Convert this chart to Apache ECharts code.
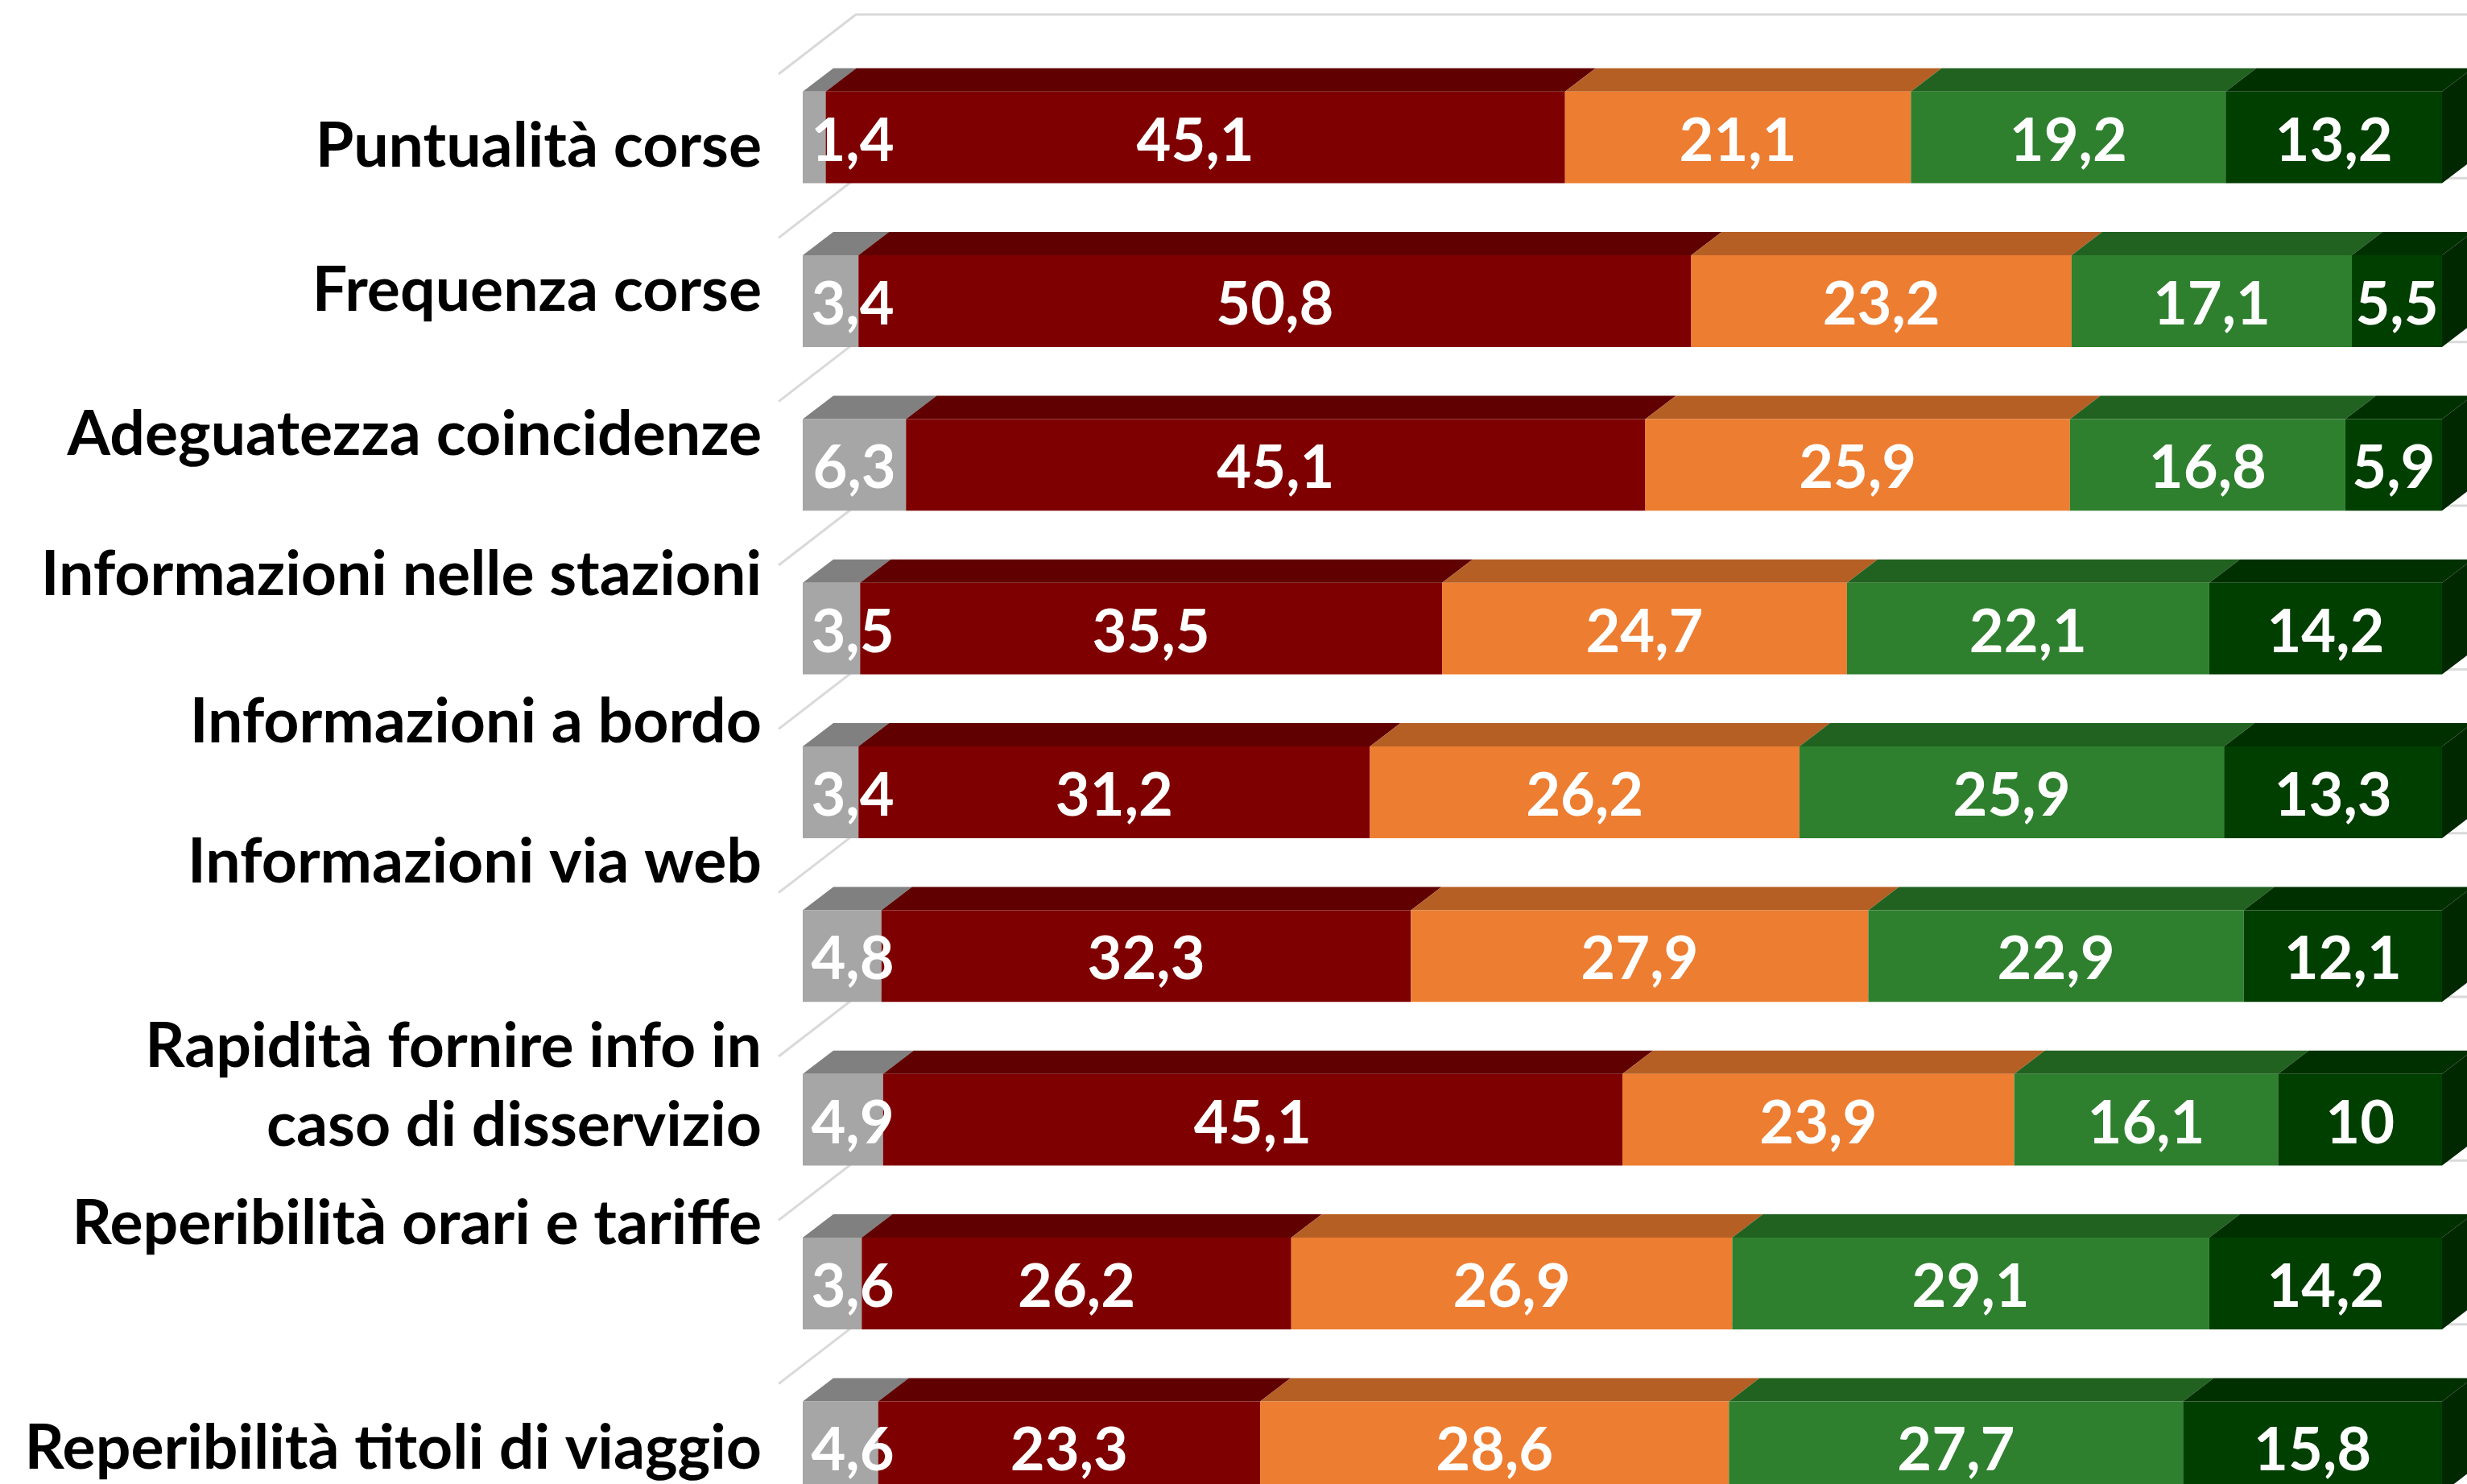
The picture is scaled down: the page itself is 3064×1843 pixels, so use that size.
<!DOCTYPE html>
<html>
<head>
<meta charset="utf-8">
<title>Soddisfazione servizi</title>
<script src="https://cdn.jsdelivr.net/npm/echarts@6/dist/echarts.min.js"></script>
<style>
  html, body { margin: 0; padding: 0; background: #fff; }
  #chart { width: 3064px; height: 1843px; }
</style>
</head>
<body>
<div id="chart"></div>
<script>
  // categorie (dall'alto in basso)
  const categories = [
    'Puntualità corse',
    'Frequenza corse',
    'Adeguatezza coincidenze',
    'Informazioni nelle stazioni',
    'Informazioni a bordo',
    'Informazioni via web',
    'Rapidità fornire info in\ncaso di disservizio',
    'Reperibilità orari e tariffe',
    'Reperibilità titoli di viaggio'
  ]

  // percentuali per giudizio
  const nonSo      = [1.4, 3.4, 6.3, 3.5, 3.4, 4.8, 4.9, 3.6, 4.6]
  const perNiente  = [45.1, 50.8, 45.1, 35.5, 31.2, 32.3, 45.1, 26.2, 23.3]
  const poco       = [21.1, 23.2, 25.9, 24.7, 26.2, 27.9, 23.9, 26.9, 28.6]
  const abbastanza = [19.2, 17.1, 16.8, 22.1, 25.9, 22.9, 16.1, 29.1, 27.7]
  const molto      = [13.2, 5.5, 5.9, 14.2, 13.3, 12.1, 10, 14.2, 15.8]

  const seriesNames = ['Non so', 'Per niente', 'Poco', 'Abbastanza', 'Molto']
  const seriesValues = [nonSo, perNiente, poco, abbastanza, molto]

  // colori: fronte, faccia superiore, fianco
  const palette = [
    ['#a6a6a6', '#808080', '#6e6e6e'],
    ['#7f0000', '#600000', '#500000'],
    ['#ed7d31', '#b55f24', '#9a501e'],
    ['#2e802e', '#216221', '#1a4f1a'],
    ['#003f00', '#003000', '#002800']
  ]

  // spostamento verticale delle etichette di categoria (effetto prospettico)
  const labelShift = [12, -13, -37, -66, -87, -116, 0, -74, 2]

  const depthX = 38
  const depthY = 29
  const faceRatio = 0.56
  const catFont = 77

  const chart = echarts.init(document.getElementById('chart'))

  function fmt(v) {
    return String(v).replace('.', ',')
  }

  function segmentRenderer(si) {
    return function (params, api) {
      const k = api.value(1)
      const start = api.value(2)
      const end = start + api.value(0)
      const origin = api.coord([0, k])
      const p0 = api.coord([start, k])
      const p1 = api.coord([end, k])
      const h = api.size([0, 1])[1] * faceRatio
      const x0 = p0[0]
      const x1 = p1[0]
      const yt = p0[1] - h / 2
      const yb = p0[1] + h / 2
      const col = palette[si]
      const children = [
        {
          type: 'polygon',
          shape: { points: [[x0, yt], [x0 + depthX, yt - depthY], [x1 + depthX, yt - depthY], [x1, yt]] },
          style: { fill: col[1] }
        },
        {
          type: 'rect',
          shape: { x: x0, y: yt, width: x1 - x0, height: h },
          style: { fill: col[0] }
        }
      ]
      if (si === seriesValues.length - 1) {
        children.push({
          type: 'polygon',
          shape: { points: [[x1, yt], [x1 + depthX, yt - depthY], [x1 + depthX, yb - depthY], [x1, yb]] },
          style: { fill: col[2] }
        })
      }
      const cx = Math.max((x0 + x1) / 2, origin[0] + 62)
      children.push({
        type: 'text',
        z2: 100,
        style: {
          x: cx,
          y: p0[1] + 5,
          text: fmt(api.value(0)),
          fill: '#ffffff',
          font: 'bold 74px Lato',
          align: 'center',
          verticalAlign: 'middle'
        }
      })
      return { type: 'group', children: children }
    }
  }

  function gridRenderer(params, api) {
    const b = api.value(0)
    const c0 = api.coord([0, 0])
    const band = api.size([0, 1])[1]
    const yb = c0[1] - band / 2 + b * band
    const fx = c0[0] - 30
    const fy = yb + 23
    const bx = c0[0] + 66
    const by = yb - 51
    return {
      type: 'polyline',
      shape: { points: [[fx, fy], [bx, by], [api.getWidth() + 10, by]] },
      style: { stroke: '#d9d9d9', lineWidth: 3, fill: 'none' }
    }
  }

  const rich = {}
  labelShift.forEach((d, i) => {
    rich['s' + i] = {
      fontFamily: 'Lato',
      fontWeight: 'bold',
      fontSize: catFont,
      color: '#000',
      padding: d < 0 ? [0, 0, -2 * d, 0] : [2 * d, 0, 0, 0]
    }
  })
  rich.ml = { fontFamily: 'Lato', fontWeight: 'bold', fontSize: catFont, color: '#000', lineHeight: 98 }
  rich.sp = { fontSize: 10, lineHeight: 82 }

  const series = [
    {
      type: 'custom',
      name: 'griglia',
      z: 1,
      silent: true,
      renderItem: gridRenderer,
      data: [[0], [1], [2], [3], [4], [5], [6], [7], [8], [9]]
    }
  ]
  seriesValues.forEach((vals, si) => {
    series.push({
      type: 'custom',
      name: seriesNames[si],
      z: 2,
      renderItem: segmentRenderer(si),
      encode: { x: 0, y: 1 },
      data: vals.map((v, k) => {
        let start = 0
        for (let j = 0; j < si; j++) start += seriesValues[j][k]
        return [v, k, start]
      })
    })
  })

  chart.setOption({
    animation: false,
    backgroundColor: '#ffffff',
    grid: { left: 997, right: 31, top: 69, height: 1830, outerBoundsMode: 'none' },
    xAxis: { type: 'value', min: 0, max: 100, show: false },
    yAxis: {
      type: 'category',
      inverse: true,
      data: categories,
      axisLine: { show: false },
      axisTick: { show: false },
      splitLine: { show: false },
      axisLabel: {
        margin: 51,
        formatter: function (value, index) {
          if (value.indexOf('\n') >= 0) {
            const parts = value.split('\n')
            return '{ml|' + parts[0] + '}\n{ml|' + parts[1] + '}\n{sp| }'
          }
          return '{s' + index + '|' + value + '}'
        },
        rich: rich
      }
    },
    series: series
  })
</script>
</body>
</html>
